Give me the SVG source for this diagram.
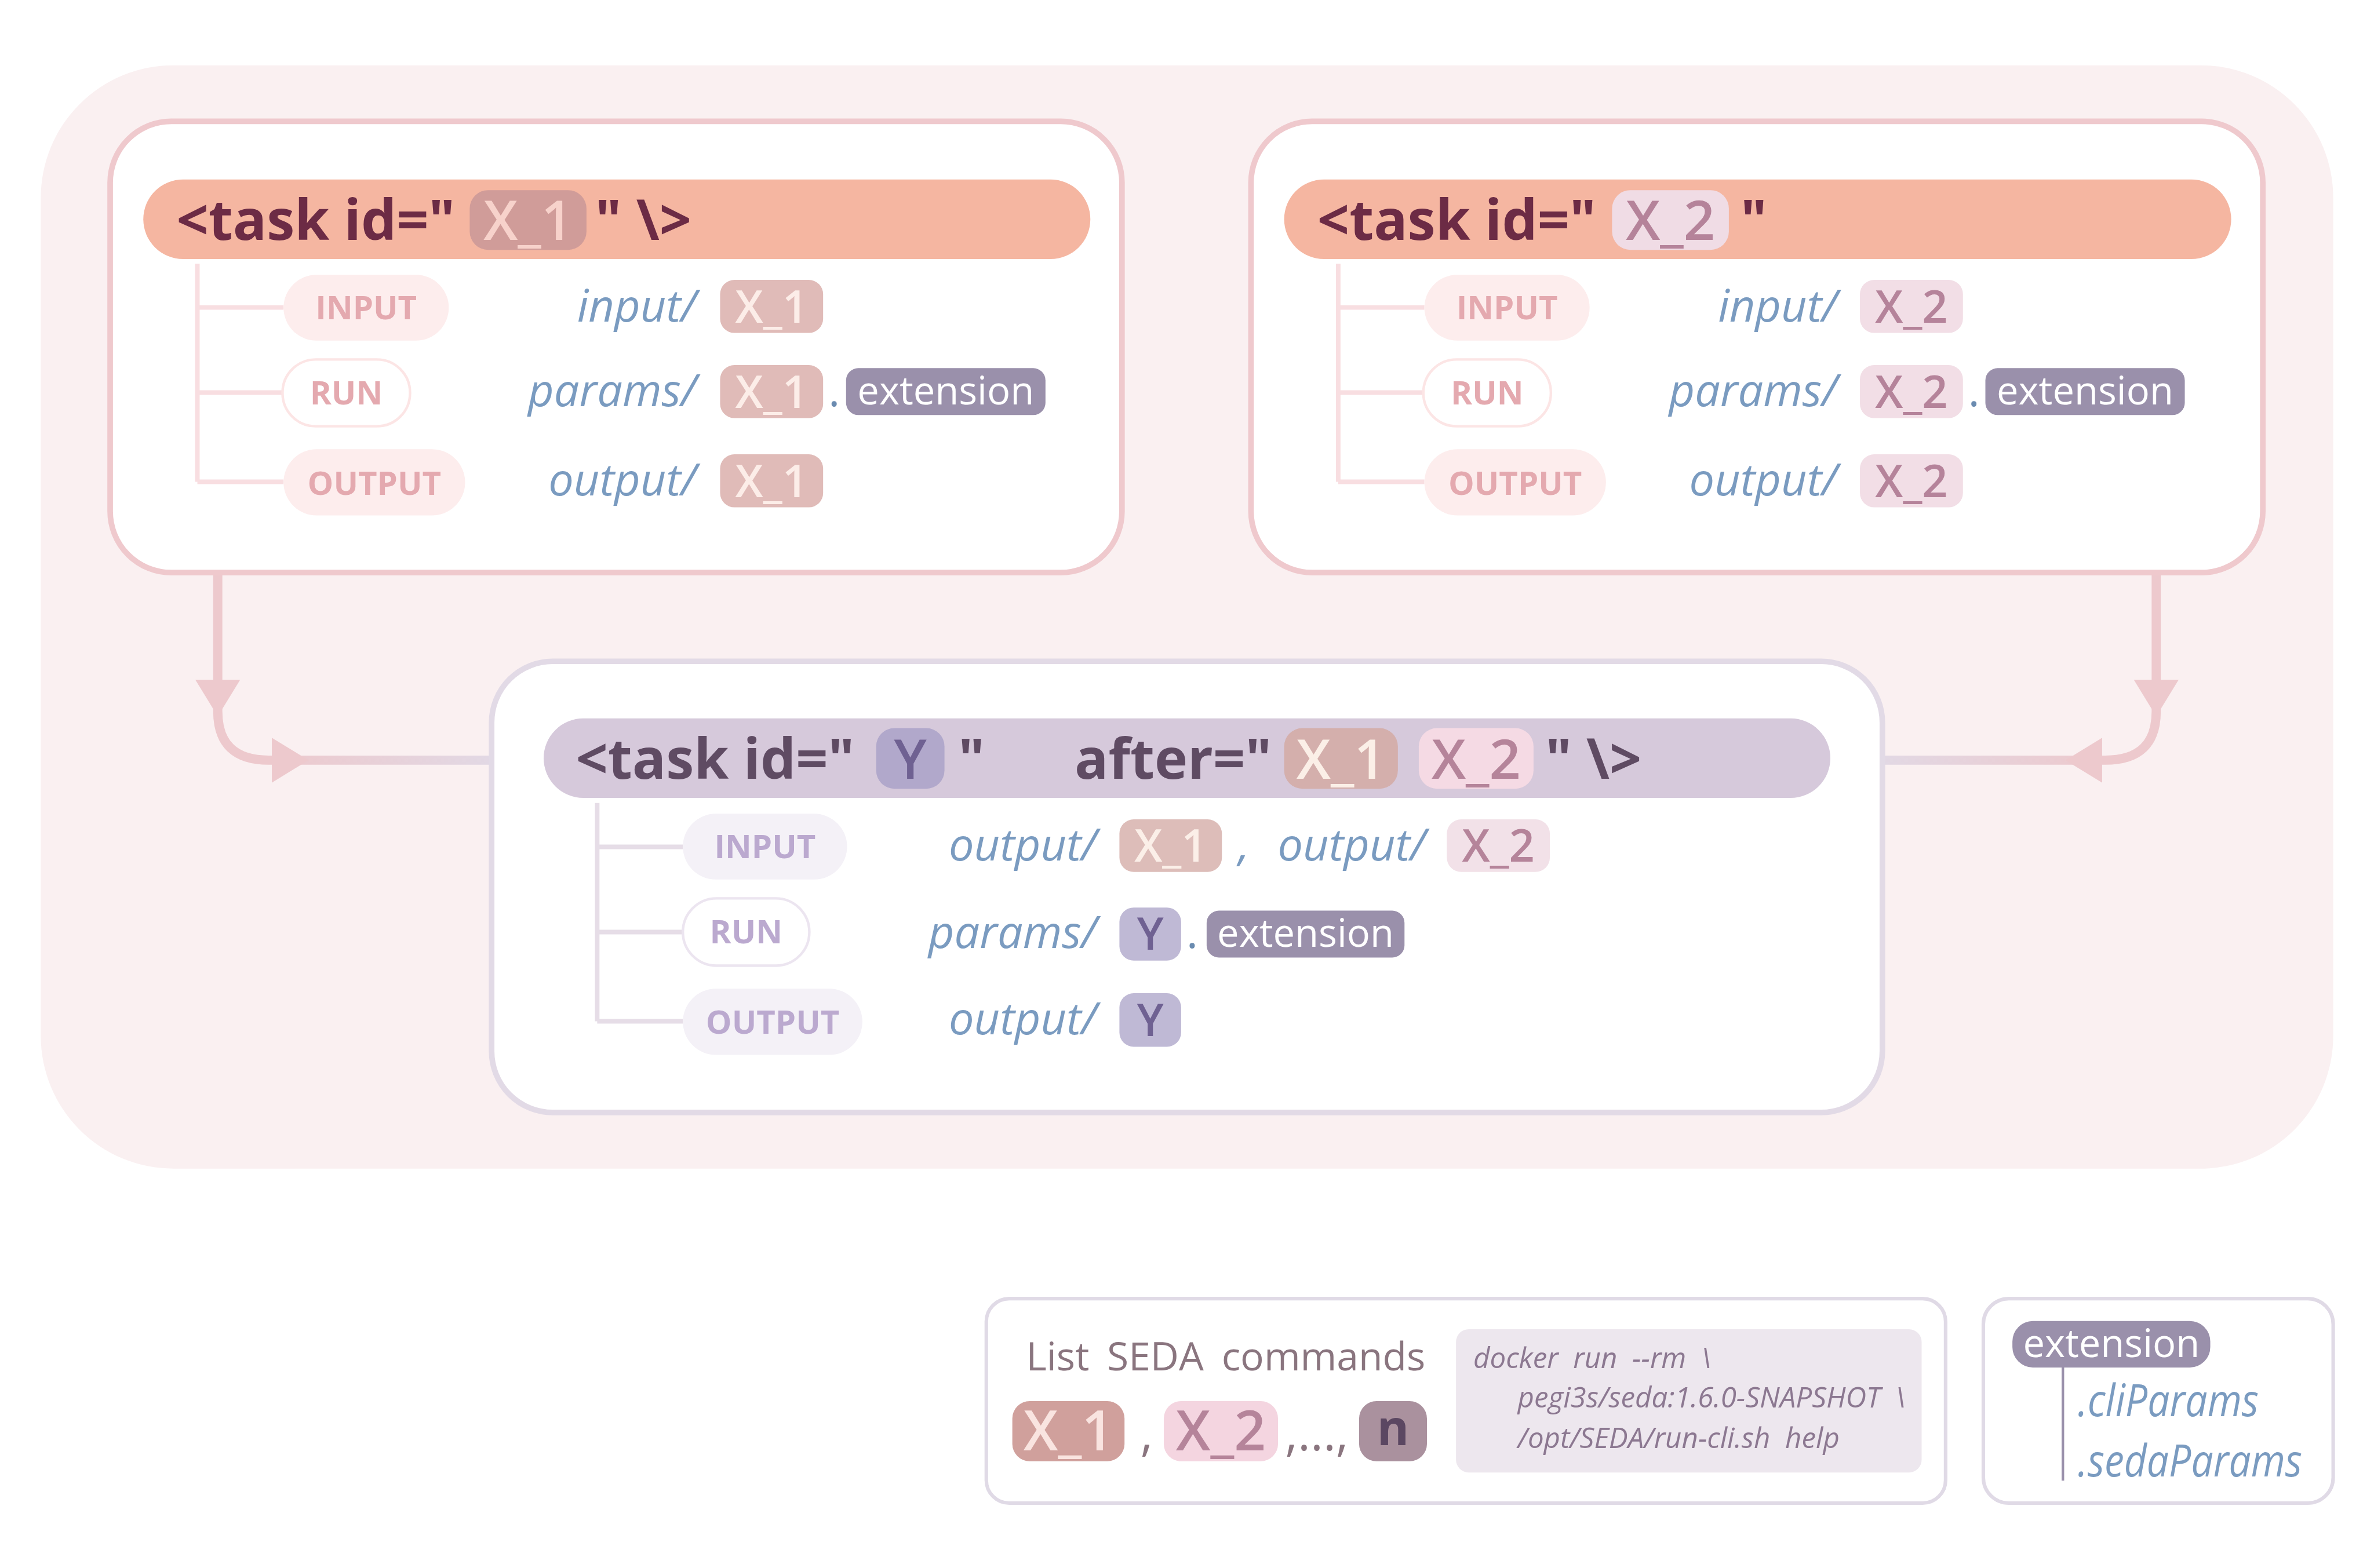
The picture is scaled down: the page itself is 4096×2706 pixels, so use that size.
<svg xmlns="http://www.w3.org/2000/svg" width="4096" height="2706" viewBox="0 0 4096 2706">
<defs>
<style>
text{font-family:"Open Sans","Noto Sans","DejaVu Sans",sans-serif}
.hd{font-weight:700;font-size:110px}
.hd1{fill:#6C2B45}
.hd3{fill:#5F4B63}
.ph{font-size:108px;font-weight:600;text-anchor:middle}
.lbl{font-weight:700;font-size:64px;text-anchor:middle}
.lp{fill:#E4A9AF}
.lb{fill:#BBA9CF}
.pt{font-style:italic;font-size:88px;fill:#7A9BC0;text-anchor:end}
.pts{font-style:italic;font-size:88px;fill:#7A9BC0}
.pv{font-size:88px;font-weight:600;text-anchor:middle}
.dot{font-size:88px;fill:#6A8BB0}
.ext{font-size:76px;fill:#fff;text-anchor:middle}
.extr{fill:#9A90AB}
.box1{fill:#fff;stroke:#EFC9CD;stroke-width:11}
.box3{fill:#fff;stroke:#E2DAE6;stroke-width:11}
.lg{fill:#fff;stroke:#E0DAE6;stroke-width:7}
.tr1{fill:none;stroke:#F8DEE1;stroke-width:9}
.tr3{fill:none;stroke:#E6DDE7;stroke-width:9}
.pp{fill:#FDEDED}
.pr{fill:#fff;stroke:#FCE5E5;stroke-width:5}
.pb{fill:#F4F1F7}
.prb{fill:#fff;stroke:#ECE5F0;stroke-width:5}
.conn{fill:none;stroke-width:18}
.code{font-style:italic;font-size:56px;fill:#8C7891}
.lt{fill:#8A757F}
.lpv{font-size:109px;font-weight:600;text-anchor:middle}
</style>
<linearGradient id="gl" gradientUnits="userSpaceOnUse" x1="540" y1="0" x2="958" y2="0"><stop offset="0" stop-color="#EDC9CD"/><stop offset="1" stop-color="#E2D8E4"/></linearGradient>
<linearGradient id="gr" gradientUnits="userSpaceOnUse" x1="4120" y1="0" x2="3691" y2="0"><stop offset="0" stop-color="#EDC9CD"/><stop offset="1" stop-color="#E2D8E4"/></linearGradient>
<path id="ah" d="M-72,-44 L0,0 L-72,44 Z" fill="#EDC9CD"/>
</defs>
<g transform="scale(0.87991)">
<rect id="background" x="80" y="128" width="4495" height="2164" rx="260" fill="#FAF0F1"/>

<g id="connectors">
<path class="conn" stroke="url(#gl)" d="M427,1123 V1395 Q427,1491 527,1491 H962"/>
<path class="conn" stroke="url(#gr)" d="M4228,1123 V1395 Q4228,1491 4128,1491 H3688"/>
<use href="#ah" transform="translate(427 1405) rotate(90)"/>
<use href="#ah" transform="translate(605 1491)"/>
<use href="#ah" transform="translate(4228 1405) rotate(90)"/>
<use href="#ah" transform="translate(4050 1491) rotate(180)"/>
</g>

<g id="task-x1">
<rect class="box1" x="216" y="238" width="1984" height="885" rx="120"/>
<rect x="281" y="352" width="1857" height="156" rx="78" fill="#F5B6A1"/>
<text class="hd hd1" x="346" y="470">&lt;task id="</text>
<rect x="921" y="373" width="229" height="117" rx="36" fill="#D09C99"/>
<text class="ph" x="1035.5" y="470" fill="#F7D2CB">X_1</text>
<text class="hd hd1" x="1167" y="470">" \&gt;</text>
<path class="tr1" d="M387,517 V945 M387,603 H556 M387,770 H554 M387,945 H556"/>
<rect class="pp" x="556" y="539" width="324" height="129" rx="64.5"/>
<text class="lbl lp" x="718" y="626">INPUT</text>
<rect class="pr" x="554" y="705" width="250" height="131" rx="65"/>
<text class="lbl lp" x="679" y="793">RUN</text>
<rect class="pp" x="556" y="881" width="356" height="130" rx="65"/>
<text class="lbl lp" x="734" y="970">OUTPUT</text>
<text class="pt" x="1366" y="631">input/</text>
<text class="pt" x="1366" y="797">params/</text>
<text class="pt" x="1366" y="972">output/</text>
<rect x="1412" y="549" width="202" height="104" rx="28" fill="#E0BBB8"/>
<text class="pv" x="1513" y="633" fill="#FCEDE8">X_1</text>
<rect x="1412" y="716" width="202" height="104" rx="28" fill="#E0BBB8"/>
<text class="pv" x="1513" y="800" fill="#FCEDE8">X_1</text>
<text class="dot" x="1624" y="797">.</text>
<rect class="extr" x="1659" y="722" width="391" height="92" rx="24"/>
<text class="ext" x="1854.5" y="793">extension</text>
<rect x="1412" y="891" width="202" height="104" rx="28" fill="#E0BBB8"/>
<text class="pv" x="1513" y="975" fill="#FCEDE8">X_1</text>
</g>

<g id="task-x2" transform="translate(2237 0)">
<rect class="box1" x="216" y="238" width="1984" height="885" rx="120"/>
<rect x="281" y="352" width="1857" height="156" rx="78" fill="#F5B6A1"/>
<text class="hd hd1" x="346" y="470">&lt;task id="</text>
<rect x="924" y="373" width="229" height="117" rx="36" fill="#F0DCE5"/>
<text class="ph" x="1038.5" y="470" fill="#B5839A">X_2</text>
<text class="hd hd1" x="1176" y="470">"</text>
<path class="tr1" d="M387,517 V945 M387,603 H556 M387,770 H554 M387,945 H556"/>
<rect class="pp" x="556" y="539" width="324" height="129" rx="64.5"/>
<text class="lbl lp" x="718" y="626">INPUT</text>
<rect class="pr" x="554" y="705" width="250" height="131" rx="65"/>
<text class="lbl lp" x="679" y="793">RUN</text>
<rect class="pp" x="556" y="881" width="356" height="130" rx="65"/>
<text class="lbl lp" x="734" y="970">OUTPUT</text>
<text class="pt" x="1366" y="631">input/</text>
<text class="pt" x="1366" y="797">params/</text>
<text class="pt" x="1366" y="972">output/</text>
<rect x="1410" y="549" width="202" height="104" rx="28" fill="#F2DEE6"/>
<text class="pv" x="1511" y="633" fill="#B5839A">X_2</text>
<rect x="1410" y="716" width="202" height="104" rx="28" fill="#F2DEE6"/>
<text class="pv" x="1511" y="800" fill="#B5839A">X_2</text>
<text class="dot" x="1622" y="797">.</text>
<rect class="extr" x="1656" y="722" width="391" height="92" rx="24"/>
<text class="ext" x="1851.5" y="793">extension</text>
<rect x="1410" y="891" width="202" height="104" rx="28" fill="#F2DEE6"/>
<text class="pv" x="1511" y="975" fill="#B5839A">X_2</text>
</g>

<g id="task-y">
<rect class="box3" x="964" y="1297" width="2727" height="885" rx="120"/>
<rect x="1066" y="1409" width="2523" height="156" rx="78" fill="#D6C9DB"/>
<text class="hd hd3" x="1129" y="1527">&lt;task id="</text>
<rect x="1718" y="1428" width="134" height="119" rx="36" fill="#B1A8CB"/>
<text class="ph" x="1785" y="1527" fill="#6F6192">Y</text>
<text class="hd hd3" x="1879" y="1527">"</text>
<text class="hd hd3" x="2107" y="1527">after="</text>
<rect x="2518" y="1428" width="223" height="119" rx="36" fill="#D4AFAC"/>
<text class="ph" x="2629.5" y="1527" fill="#FBEFE7">X_1</text>
<rect x="2782" y="1428" width="225" height="119" rx="36" fill="#F5DAE4"/>
<text class="ph" x="2894.5" y="1527" fill="#B5849A">X_2</text>
<text class="hd hd3" x="3030" y="1527">" \&gt;</text>
<path class="tr3" d="M1171,1575 V2003 M1171,1661 H1339 M1171,1828 H1339 M1171,2003 H1339"/>
<rect class="pb" x="1339" y="1596" width="322" height="129" rx="64.5"/>
<text class="lbl lb" x="1500" y="1683">INPUT</text>
<rect class="prb" x="1339" y="1762" width="248" height="132" rx="66"/>
<text class="lbl lb" x="1463" y="1850">RUN</text>
<rect class="pb" x="1339" y="1939" width="352" height="130" rx="65"/>
<text class="lbl lb" x="1515" y="2027">OUTPUT</text>
<text class="pt" x="2151" y="1688">output/</text>
<rect x="2195" y="1607" width="201" height="103" rx="28" fill="#DDBDB9"/>
<text class="pv" x="2295.5" y="1690" fill="#FBEFE8">X_1</text>
<text class="pts" x="2428" y="1688">,</text>
<text class="pt" x="2796" y="1688">output/</text>
<rect x="2837" y="1607" width="202" height="103" rx="28" fill="#F2E1E8"/>
<text class="pv" x="2938" y="1690" fill="#B5849A">X_2</text>
<text class="pt" x="2151" y="1859">params/</text>
<rect x="2195" y="1780" width="121" height="104" rx="28" fill="#BFB9D5"/>
<text class="pv" x="2255.5" y="1863" fill="#6F6192">Y</text>
<text class="dot" x="2326" y="1859">.</text>
<rect class="extr" x="2366" y="1786" width="388" height="92" rx="24"/>
<text class="ext" x="2560" y="1857">extension</text>
<text class="pt" x="2151" y="2029">output/</text>
<rect x="2195" y="1948" width="121" height="105" rx="28" fill="#BFB9D5"/>
<text class="pv" x="2255.5" y="2032" fill="#6F6192">Y</text>
</g>

<g id="legend-commands">
<rect class="lg" x="1934" y="2547" width="1881" height="401" rx="45"/>
<text class="lt" x="2012" y="2688" font-size="77" word-spacing="15">List SEDA commands</text>
<rect x="1985" y="2748" width="220" height="118" rx="34" fill="#D0A09C"/>
<text class="lpv" x="2095" y="2845" fill="#F9E4E0">X_1</text>
<text class="lt" x="2236" y="2845" font-size="95">,</text>
<rect x="2282" y="2748" width="224" height="118" rx="34" fill="#F4D5E0"/>
<text class="lpv" x="2394" y="2845" fill="#B5849A">X_2</text>
<text class="lt" x="2520" y="2845" font-size="95">,...,</text>
<rect x="2665" y="2748" width="133" height="118" rx="34" fill="#AA919E"/>
<text x="2731.5" y="2834" font-size="96" font-weight="700" text-anchor="middle" fill="#5B4762">n</text>
<rect x="2855" y="2607" width="913" height="281" rx="25" fill="#EDE7EE"/>
<text class="code" x="2889" y="2683" xml:space="preserve">docker  run  --rm  \</text>
<text class="code" x="2976" y="2761" xml:space="preserve">pegi3s/seda:1.6.0-SNAPSHOT  \</text>
<text class="code" x="2976" y="2840" xml:space="preserve">/opt/SEDA/run-cli.sh  help</text>
</g>

<g id="legend-extension">
<rect class="lg" x="3889" y="2547" width="686" height="401" rx="50"/>
<rect class="extr" x="3946" y="2591" width="388" height="91" rx="40"/>
<text class="ext" x="4140" y="2662">extension</text>
<path d="M4045,2682 V2904" stroke="#9A90AB" stroke-width="5" fill="none"/>
<text class="pts" x="4074" y="2778" font-size="70" textLength="355" lengthAdjust="spacingAndGlyphs">.cliParams</text>
<text class="pts" x="4074" y="2896" font-size="70" textLength="440" lengthAdjust="spacingAndGlyphs">.sedaParams</text>
</g>
</g>
</svg>
